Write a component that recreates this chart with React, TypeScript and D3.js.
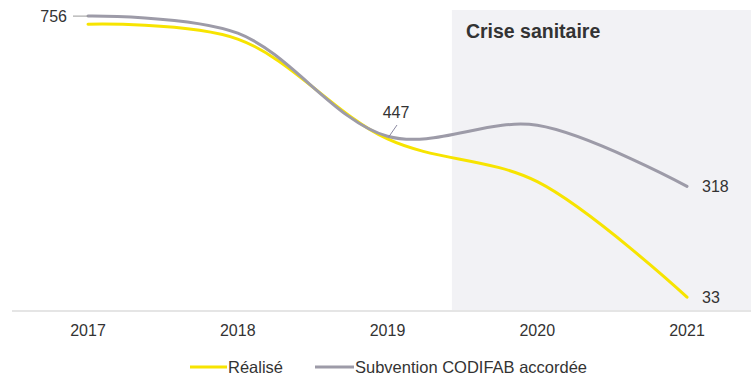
import React from "react";
import * as d3 from "d3";

const years = ["2017", "2018", "2019", "2020", "2021"];
const realise = [735, 697, 440, 330, 33];
const subvention = [756, 712, 447, 475, 318];
const seriesNames = ["Réalisé", "Subvention CODIFAB accordée"];
const shadeLabel = "Crise sanitaire";

const W = 751;
const H = 375;
const YELLOW = "#f7e400";
const GREY = "#9d9ba8";
const TEXT = "#333333";
const FONT = "'Liberation Sans', Arial, sans-serif";

export default function App() {
  const x = d3.scalePoint<string>().domain(years).range([88, 687]);
  const y = d3.scaleLinear().domain([0, 800]).range([310, -1]);
  const step = x.step();
  const line = d3
    .line<number>()
    .x((_, i) => x(years[i]) as number)
    .y((d) => y(d))
    .curve(d3.curveCatmullRom.alpha(0.5));

  const shadeX = (x("2019") as number) + step * 0.43;
  const last = years.length - 1;

  return (
    <svg
      width={W}
      height={H}
      style={{ position: "absolute", left: 0, top: 0, background: "#fff" }}
      fontFamily={FONT}
    >
      <rect x={shadeX} y={10} width={W - shadeX} height={y(0) - 10} fill="#f2f2f5" />
      <text x={shadeX + 14} y={38} fontSize={19.5} fontWeight="bold" fill={TEXT}>
        {shadeLabel}
      </text>
      <line x1={12} x2={W} y1={311} y2={311} stroke="#dcdcdc" strokeWidth={1.5} />
      {years.map((yr) => (
        <text key={yr} x={x(yr)} y={336} fontSize={16} textAnchor="middle" fill={TEXT}>
          {yr}
        </text>
      ))}
      <path d={line(realise) || ""} fill="none" stroke={YELLOW} strokeWidth={3} strokeLinecap="round" />
      <path d={line(subvention) || ""} fill="none" stroke={GREY} strokeWidth={3} strokeLinecap="round" />

      {/* data labels */}
      <line x1={73} x2={(x(years[0]) as number)} y1={y(subvention[0])} y2={y(subvention[0])} stroke="#999" strokeWidth={1} />
      <text x={67} y={y(subvention[0]) + 6} fontSize={16} textAnchor="end" fill={TEXT}>
        {subvention[0]}
      </text>
      <line x1={397} y1={125} x2={(x(years[2]) as number) + 1} y2={y(subvention[2]) + 1} stroke="#8a88a0" strokeWidth={1} />
      <text x={396} y={118} fontSize={16} textAnchor="middle" fill={TEXT}>
        {subvention[2]}
      </text>
      <text x={(x(years[last]) as number) + 15} y={y(subvention[last]) + 6} fontSize={16} fill={TEXT}>
        {subvention[last]}
      </text>
      <text x={(x(years[last]) as number) + 15} y={y(realise[last]) + 6} fontSize={16} fill={TEXT}>
        {realise[last]}
      </text>

      {/* legend */}
      <line x1={190} x2={227} y1={367} y2={367} stroke={YELLOW} strokeWidth={3} />
      <text x={228} y={372.5} fontSize={16.5} fill={TEXT}>
        {seriesNames[0]}
      </text>
      <line x1={315} x2={354} y1={367} y2={367} stroke={GREY} strokeWidth={3} />
      <text x={355} y={372.5} fontSize={16.5} fill={TEXT}>
        {seriesNames[1]}
      </text>
    </svg>
  );
}
